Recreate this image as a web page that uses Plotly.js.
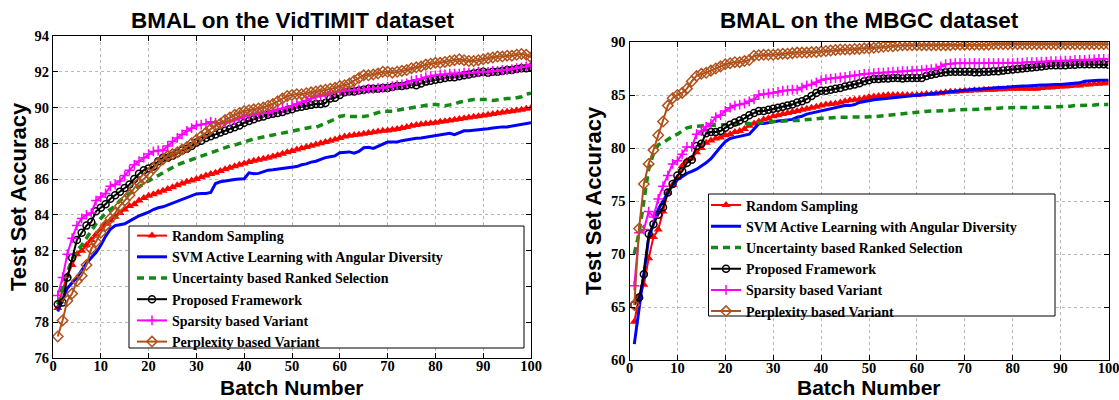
<!DOCTYPE html>
<html>
<head>
<meta charset="utf-8">
<script src="https://cdn.plot.ly/plotly-3.0.1.min.js"></script>
<style>html,body{margin:0;padding:0;background:#fff;}#chart{width:1119px;height:400px;}</style>
</head>
<body>
<div id="chart"></div>
<script>
// ---------- Data ----------
const batches = Array.from({length: 100}, (_, i) => i + 1);
const seriesNames = ["Random Sampling", "SVM Active Learning with Angular Diversity", "Uncertainty based Ranked Selection", "Proposed Framework", "Sparsity based Variant", "Perplexity based Variant"];
const plotTitles = ["BMAL on the VidTIMIT dataset", "BMAL on the MBGC dataset"];
const xTitle = "Batch Number";
const yTitle = "Test Set Accuracy";
const leftYTicks = [76, 78, 80, 82, 84, 86, 88, 90, 92, 94];
const rightYTicks = [60, 65, 70, 75, 80, 85, 90];
const xTicks = [0, 10, 20, 30, 40, 50, 60, 70, 80, 90, 100];

// VidTIMIT (left)
const vidRandom = [78.8,79.8,80.6,81.2,81.8,82.0,82.3,82.6,82.9,83.2,
83.5,83.7,83.9,84.1,84.3,84.5,84.6,84.8,84.95,85.07,
85.15,85.25,85.35,85.45,85.55,85.65,85.75,85.85,85.92,86.0,
86.1,86.2,86.28,86.36,86.45,86.55,86.63,86.72,86.8,86.87,
86.95,87.02,87.08,87.14,87.2,87.27,87.34,87.42,87.5,87.57,
87.65,87.73,87.8,87.87,87.93,88.0,88.07,88.14,88.22,88.3,
88.38,88.42,88.46,88.5,88.54,88.58,88.62,88.66,88.7,88.72,
88.76,88.8,88.86,88.92,88.98,89.02,89.06,89.1,89.12,89.15,
89.2,89.24,89.28,89.32,89.36,89.4,89.44,89.48,89.52,89.56,
89.6,89.64,89.68,89.72,89.76,89.8,89.84,89.88,89.93,89.98];
const vidSVM = [78.6,79.3,79.9,80.2,80.5,80.9,81.3,81.6,81.9,82.3,
82.8,83.2,83.4,83.45,83.5,83.65,83.8,83.95,84.05,84.15,
84.3,84.4,84.45,84.55,84.65,84.75,84.85,84.95,85.05,85.17,
85.2,85.2,85.25,85.75,85.85,85.9,85.95,85.98,86.0,86.02,
86.35,86.3,86.32,86.4,86.5,86.52,86.55,86.6,86.65,86.65,
86.7,86.8,86.85,86.95,87.0,87.1,87.2,87.25,87.3,87.48,
87.5,87.52,87.45,87.55,87.75,87.78,87.72,87.85,87.95,88.07,
88.08,88.08,88.15,88.2,88.25,88.28,88.3,88.35,88.4,88.44,
88.48,88.52,88.56,88.48,88.6,88.7,88.7,88.72,88.75,88.78,
88.82,88.86,88.9,88.92,88.92,88.96,89.0,89.05,89.1,89.15];
const vidUncertainty = [79.0,79.9,80.8,81.5,82.0,82.3,82.7,83.1,83.5,83.8,
84.1,84.3,84.5,84.8,85.0,85.2,85.4,85.6,85.75,85.9,
86.05,86.2,86.35,86.5,86.7,86.8,86.9,87.0,87.1,87.2,
87.3,87.4,87.5,87.6,87.7,87.8,87.85,87.9,88.0,88.1,
88.15,88.25,88.3,88.35,88.4,88.45,88.5,88.6,88.65,88.7,
88.75,88.8,88.85,88.9,88.9,89.0,89.1,89.2,89.35,89.5,
89.55,89.5,89.5,89.5,89.5,89.55,89.65,89.75,89.8,89.8,
89.8,89.85,89.9,89.95,90.0,90.05,90.1,90.15,90.17,90.17,
90.15,90.1,90.15,90.2,90.3,90.35,90.4,90.45,90.45,90.45,
90.45,90.4,90.45,90.5,90.5,90.5,90.55,90.6,90.75,90.8];
const vidProposed = [79.0,79.1,80.5,81.6,82.6,83.0,83.4,83.6,84.2,84.4,
84.6,84.9,85.1,85.3,85.5,85.7,86.0,86.3,86.5,86.6,
86.7,87.0,87.2,87.2,87.3,87.45,87.6,87.7,87.85,88.04,
88.15,88.3,88.4,88.5,88.6,88.7,88.8,88.9,89.0,89.15,
89.25,89.35,89.45,89.5,89.6,89.65,89.7,89.75,89.85,89.9,
90.0,90.05,90.1,90.15,90.2,90.2,90.25,90.5,90.55,90.7,
90.85,90.9,90.9,90.95,91.0,91.05,91.05,91.05,91.1,91.1,
91.15,91.2,91.2,91.25,91.3,91.25,91.35,91.45,91.5,91.55,
91.6,91.65,91.7,91.7,91.75,91.8,91.85,91.9,91.95,92.0,
91.95,92.0,92.0,92.05,92.1,92.1,92.15,92.2,92.2,92.25];
const vidSparsity = [79.5,80.5,81.8,82.7,83.4,83.8,84.0,84.1,84.8,85.0,
85.2,85.6,85.7,85.9,86.2,86.5,86.8,87.0,87.2,87.4,
87.55,87.6,87.6,87.85,88.1,88.3,88.5,88.7,88.85,89.0,
89.05,89.1,89.2,89.15,89.1,89.15,89.2,89.3,89.4,89.5,
89.55,89.6,89.65,89.7,89.7,89.8,89.9,89.95,90.0,90.1,
90.2,90.3,90.4,90.5,90.6,90.65,90.7,90.8,90.85,90.9,
90.95,90.95,91.0,91.0,91.0,91.05,91.05,91.1,91.1,91.15,
91.2,91.25,91.3,91.35,91.5,91.55,91.6,91.7,91.75,91.8,
91.85,91.85,91.9,91.9,91.9,91.95,91.95,91.95,92.0,92.0,
92.0,92.05,92.05,92.1,92.1,92.15,92.2,92.25,92.3,92.4];
const vidPerplexity = [77.2,78.1,79.2,79.6,80.3,80.6,81.2,82.1,82.5,83.0,
83.4,83.8,84.1,84.5,84.8,85.1,85.5,85.8,86.0,86.3,
86.6,86.9,87.1,87.3,87.4,87.5,87.65,87.8,88.0,88.2,
88.4,88.6,88.8,89.0,89.1,89.3,89.45,89.6,89.7,89.8,
89.85,89.9,89.95,90.0,90.1,90.2,90.35,90.5,90.65,90.7,
90.75,90.75,90.8,90.85,90.9,90.95,91.0,91.05,91.1,91.2,
91.25,91.35,91.5,91.65,91.8,91.8,91.85,91.9,92.0,92.0,
91.95,92.0,92.05,92.1,92.2,92.25,92.3,92.4,92.45,92.5,
92.5,92.55,92.6,92.65,92.7,92.65,92.6,92.6,92.65,92.7,
92.75,92.8,92.85,92.85,92.9,92.9,92.95,93.0,92.95,92.8];

// MBGC (right)
const mbgcRandom = [63.6,66.0,67.1,69.6,71.6,72.3,74.0,75.8,76.5,77.2,
78.3,78.8,79.0,79.6,80.0,80.5,80.7,80.9,81.0,81.2,
81.3,81.5,81.6,81.8,82.1,82.3,82.5,82.7,82.8,83.0,
83.1,83.2,83.3,83.4,83.5,83.6,83.7,83.8,83.9,84.0,
84.1,84.15,84.2,84.3,84.4,84.5,84.55,84.6,84.7,84.8,
84.85,84.9,84.95,85.0,85.0,85.0,85.0,85.0,85.0,85.0,
85.05,85.1,85.1,85.15,85.2,85.25,85.3,85.3,85.35,85.4,
85.4,85.45,85.45,85.5,85.5,85.5,85.55,85.55,85.6,85.6,
85.6,85.6,85.6,85.6,85.6,85.65,85.7,85.7,85.75,85.8,
85.8,85.85,85.9,85.9,86.0,86.0,86.05,86.05,86.1,86.1];
const mbgcSVM = [61.5,65.0,68.5,71.5,72.8,74.2,75.0,75.8,76.5,77.0,
77.3,77.6,77.8,78.0,78.3,78.6,79.0,79.6,80.1,80.6,
80.9,81.0,81.1,81.2,81.3,81.8,82.3,82.3,82.4,82.5,
82.55,82.6,82.65,82.7,82.9,83.0,83.2,83.3,83.4,83.5,
83.6,83.7,83.8,83.9,84.0,84.0,84.1,84.3,84.4,84.5,
84.55,84.6,84.65,84.7,84.7,84.75,84.8,84.9,84.95,85.0,
85.05,85.1,85.1,85.15,85.2,85.25,85.3,85.35,85.4,85.5,
85.5,85.55,85.55,85.6,85.6,85.65,85.7,85.7,85.75,85.8,
85.8,85.85,85.85,85.9,85.9,85.95,85.95,86.0,86.0,86.0,
86.05,86.1,86.1,86.15,86.3,86.35,86.35,86.4,86.4,86.4];
const mbgcUncertainty = [70.0,72.0,75.0,78.0,79.5,80.3,80.5,80.8,81.1,81.3,
81.6,81.9,82.0,82.05,82.1,82.1,82.15,82.15,82.2,82.2,
82.2,82.25,82.25,82.3,82.3,82.35,82.4,82.4,82.45,82.5,
82.5,82.55,82.55,82.6,82.6,82.65,82.7,82.7,82.75,82.8,
82.8,82.85,82.85,82.9,82.9,82.9,82.9,82.9,82.9,82.9,
82.95,83.0,83.05,83.1,83.1,83.15,83.2,83.25,83.3,83.35,
83.45,83.5,83.5,83.5,83.5,83.55,83.55,83.6,83.6,83.6,
83.6,83.6,83.65,83.7,83.7,83.75,83.75,83.8,83.8,83.8,
83.8,83.8,83.8,83.8,83.8,83.85,83.85,83.85,83.9,83.9,
83.95,83.95,84.0,84.0,84.0,84.05,84.05,84.1,84.1,84.1];
const mbgcProposed = [65.2,65.9,68.1,71.9,72.8,73.7,74.4,75.8,76.6,77.4,
77.8,78.6,78.9,80.2,80.4,81.4,81.5,81.5,81.6,81.9,
82.2,82.4,82.6,82.8,83.1,83.3,83.5,83.5,83.6,83.7,
83.8,83.9,84.0,84.1,84.3,84.4,84.6,84.9,85.2,85.4,
85.4,85.5,85.6,85.65,85.8,85.9,86.0,86.1,86.3,86.4,
86.5,86.5,86.55,86.55,86.6,86.6,86.55,86.6,86.6,86.6,
86.6,86.8,86.9,87.0,87.1,87.15,87.2,87.2,87.2,87.2,
87.2,87.15,87.15,87.2,87.2,87.25,87.25,87.3,87.35,87.4,
87.45,87.5,87.55,87.6,87.65,87.7,87.75,87.8,87.8,87.8,
87.8,87.85,87.85,87.9,87.9,87.9,87.9,87.9,87.9,87.85];
const mbgcSparsity = [67.0,72.0,72.3,74.0,73.5,75.2,76.4,77.4,78.5,78.8,
79.4,80.1,80.1,81.3,81.6,82.0,82.3,82.9,83.1,83.5,
83.8,84.0,84.1,84.2,84.4,84.6,85.0,85.1,85.15,85.2,
85.3,85.4,85.45,85.5,85.5,85.7,85.9,86.0,86.2,86.4,
86.5,86.55,86.6,86.65,86.7,86.8,86.85,86.9,87.0,87.0,
87.05,87.1,87.1,87.15,87.2,87.2,87.25,87.25,87.3,87.3,
87.35,87.4,87.45,87.5,87.7,87.9,87.95,88.0,88.0,88.0,
88.0,88.0,88.0,88.0,88.0,88.0,88.0,88.0,88.0,88.0,
88.05,88.05,88.1,88.1,88.1,88.15,88.15,88.2,88.2,88.2,
88.25,88.25,88.3,88.3,88.3,88.35,88.35,88.4,88.4,88.4];
const mbgcPerplexity = [65.2,72.4,76.6,78.5,79.8,81.2,82.5,84.0,84.7,85.0,
85.2,85.6,86.3,86.8,87.0,87.1,87.3,87.5,87.7,87.9,
88.0,88.1,88.1,88.2,88.3,88.7,88.75,88.8,88.8,88.8,
88.85,88.9,88.9,88.95,89.0,89.0,89.0,89.05,89.05,89.1,
89.15,89.2,89.25,89.3,89.3,89.3,89.35,89.35,89.4,89.4,
89.45,89.5,89.55,89.6,89.6,89.65,89.7,89.7,89.7,89.7,
89.7,89.7,89.7,89.7,89.7,89.7,89.7,89.75,89.75,89.75,
89.75,89.75,89.75,89.75,89.75,89.8,89.8,89.8,89.8,89.8,
89.8,89.8,89.8,89.8,89.8,89.8,89.8,89.8,89.8,89.8,
89.8,89.8,89.8,89.8,89.8,89.8,89.8,89.8,89.8,89.8];

// ---------- Styles ----------
const W = 1119, H = 400;
const px = v => v / W;
const py = v => 1 - v / H;
const styles = [
  {mode: 'lines+markers', line: {color: '#ff0000', width: 2}, marker: {symbol: 'triangle-up', size: 8, color: '#ff0000'}},
  {mode: 'lines', line: {color: '#0000ff', width: 3}},
  {mode: 'lines', line: {color: '#138a13', width: 3.5, dash: '7px,5px'}},
  {mode: 'lines+markers', line: {color: '#000000', width: 2}, marker: {symbol: 'circle-open', size: 7, color: '#000000', line: {width: 1.5}}},
  {mode: 'lines+markers', line: {color: '#ff00ff', width: 2}, marker: {symbol: 'cross-thin', size: 7, line: {color: '#ff00ff', width: 1.5}}},
  {mode: 'lines+markers', line: {color: '#b0521c', width: 2}, marker: {symbol: 'diamond-open', size: 8, color: '#b0521c', line: {width: 1.5}}}
];
const leftData = [vidRandom, vidSVM, vidUncertainty, vidProposed, vidSparsity, vidPerplexity];
const rightData = [mbgcRandom, mbgcSVM, mbgcUncertainty, mbgcProposed, mbgcSparsity, mbgcPerplexity];

const traces = [];
leftData.forEach((ys, i) => traces.push(Object.assign({type: 'scatter', x: batches, y: ys, name: seriesNames[i], xaxis: 'x', yaxis: 'y', legend: 'legend', cliponaxis: true}, styles[i])));
rightData.forEach((ys, i) => traces.push(Object.assign({type: 'scatter', x: batches, y: ys, name: seriesNames[i], xaxis: 'x2', yaxis: 'y2', legend: 'legend2', cliponaxis: true}, styles[i])));

const tickFont = {family: 'Liberation Serif, Times New Roman, serif', size: 14.5, color: '#000', weight: 'bold'};
const xTitleFont = {family: 'Liberation Sans, Arial, sans-serif', size: 21, color: '#000', weight: 'bold'};
const yTitleFont = {family: 'Liberation Sans, Arial, sans-serif', size: 22, color: '#000', weight: 'bold'};
const legFont = {family: 'Liberation Serif, Times New Roman, serif', size: 14, color: '#000', weight: 'bold'};
const mainTitleFont = {family: 'Liberation Sans, Arial, sans-serif', size: 22.5, color: '#000', weight: 'bold'};

function xAxis(domain, anchor) {
  return {domain: domain, anchor: anchor, range: [0, 100], tickvals: xTicks, ticktext: xTicks.map(String),
    ticks: 'inside', ticklen: 5, tickcolor: '#000', showline: true, linecolor: '#000', linewidth: 1, mirror: 'ticks',
    showgrid: true, gridcolor: '#b8b8b8', griddash: 'dot', gridwidth: 1, zeroline: false, tickfont: tickFont,
    ticklabeloverflow: 'allow', ticklabelstandoff: -5};
}
function yAxis(domain, anchor, range, ticks) {
  return {domain: domain, anchor: anchor, range: range, tickvals: ticks, ticktext: ticks.map(String),
    ticks: 'inside', ticklen: 5, tickcolor: '#000', showline: true, linecolor: '#000', linewidth: 1, mirror: 'ticks',
    showgrid: true, gridcolor: '#b8b8b8', griddash: 'dot', gridwidth: 1, zeroline: false, tickfont: tickFont,
    ticklabeloverflow: 'allow'};
}
function note(text, x, y, font, angle, yanchor) {
  return {text: text, xref: 'paper', yref: 'paper', x: px(x), y: py(y), xanchor: 'center', yanchor: yanchor || 'middle',
    showarrow: false, font: font, textangle: angle || 0, borderpad: 0};
}

const layout = {
  width: W, height: H,
  margin: {l: 0, r: 0, t: 0, b: 0},
  paper_bgcolor: '#fff', plot_bgcolor: '#fff',
  xaxis: xAxis([px(53), px(531)], 'y'),
  yaxis: yAxis([py(358), py(36)], 'x', [76, 94], leftYTicks),
  xaxis2: xAxis([px(629.5), px(1108.5)], 'y2'),
  yaxis2: yAxis([py(360), py(42)], 'x2', [60, 90], rightYTicks),
  showlegend: true,
  legend: {x: px(132), y: py(220), xanchor: 'left', yanchor: 'top', bgcolor: 'rgba(0,0,0,0)', borderwidth: 0,
    font: legFont, itemwidth: 30, tracegroupgap: 0},
  legend2: {x: px(706), y: py(189.5), xanchor: 'left', yanchor: 'top', bgcolor: 'rgba(0,0,0,0)', borderwidth: 0,
    font: legFont, itemwidth: 30, tracegroupgap: 0},
  shapes: [
    {type: 'rect', xref: 'paper', yref: 'paper', x0: px(129), x1: px(524), y0: py(348), y1: py(226), fillcolor: '#fff', line: {color: '#000', width: 1}, layer: 'above'},
    {type: 'rect', xref: 'paper', yref: 'paper', x0: px(708.5), x1: px(1055), y0: py(316), y1: py(194), fillcolor: '#fff', line: {color: '#000', width: 1}, layer: 'above'}
  ],
  annotations: [
    note(plotTitles[0], 292, 20, mainTitleFont),
    note(plotTitles[1], 869, 21, mainTitleFont),
    note(xTitle, 292, 399.5, xTitleFont, 0, 'bottom'),
    note(xTitle, 869, 399.5, xTitleFont, 0, 'bottom'),
    note(yTitle, 19, 197, yTitleFont, -90),
    note(yTitle, 594, 201, yTitleFont, -90)
  ]
};

Plotly.newPlot('chart', traces, layout, {staticPlot: true, displayModeBar: false});
</script>
</body>
</html>
